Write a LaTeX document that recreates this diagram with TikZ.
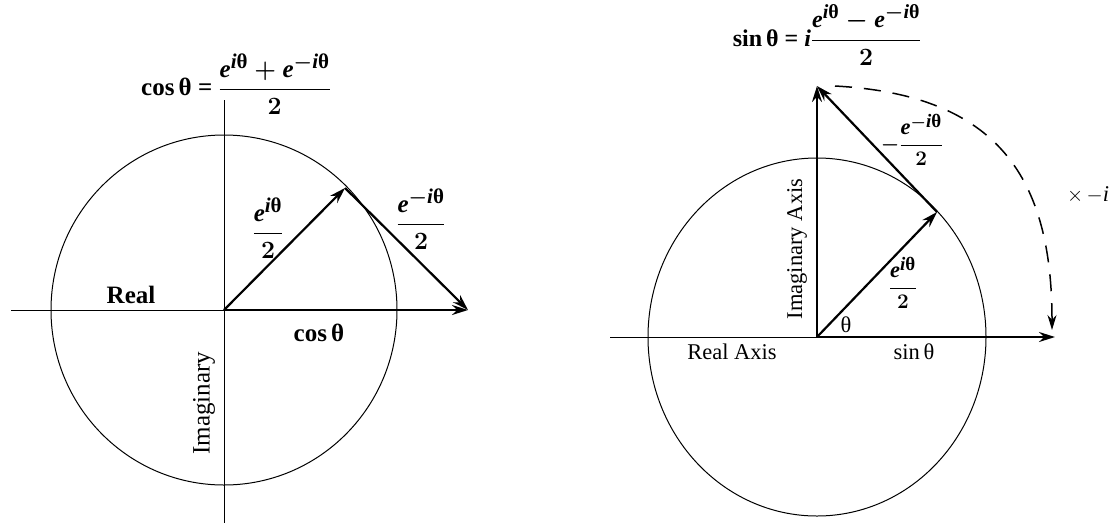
\documentclass[tikz,border=0pt]{standalone}
\usepackage{amsmath}
\usepackage{fontspec}
\setmainfont{Liberation Serif}
\usetikzlibrary{arrows.meta}
\DeclareMathSizes{25}{25}{21}{17}
\DeclareMathSizes{24}{24}{20}{16}
\DeclareMathSizes{22.5}{22.5}{19}{15}
\newcommand{\ee}{\textit{e}}
\newcommand{\ii}{\textit{i}}
\newcommand{\tht}{\text{θ}}
\tikzset{
  thinline/.style={line width=1pt},
  vec/.style={line width=2.2pt,-{Stealth[length=16pt,width=10pt]}},
  llbl/.style={font=\fontsize{25}{30}\selectfont, inner sep=1pt},
  lblb/.style={font=\fontsize{25}{30}\selectfont\bfseries\boldmath, inner sep=1pt},
  rlbl/.style={font=\fontsize{22.5}{27}\selectfont, inner sep=1pt},
  rlblb/.style={font=\fontsize{22.5}{27}\selectfont\bfseries\boldmath, inner sep=1pt},
  eqlbl/.style={font=\fontsize{24}{29}\selectfont\bfseries\boldmath, inner sep=1pt},
  dashedarc/.style={line width=1.5pt, dash pattern=on 17pt off 12pt,-{Stealth[length=15pt,width=9pt]}}
}
\begin{document}
\begin{tikzpicture}[x=1pt,y=-1pt]
\useasboundingbox (0,0) rectangle (1115,523);
% ---------- left diagram ----------
\coordinate (O1) at (224,310);
\coordinate (P1) at (345,188);
\coordinate (Q1) at (468,310);
\coordinate (L1) at (11,310);
\coordinate (T1) at (224,100);
\coordinate (B1) at (224,523);
\draw[thinline] (O1) ellipse [x radius=173, y radius=175];
\draw[thinline] (L1) -- (O1);
\draw[thinline] (T1) -- (B1);
\draw[vec] (O1) -- (Q1);
\draw[vec] (O1) -- (P1);
\draw[vec] (P1) -- (Q1);
\node[lblb] (eqc) at (236,84) {cos\,θ = $\dfrac{\ee^{\ii\tht}+\ee^{-\ii\tht}}{2}$};
\node[lblb] (h1) at (268,228) {$\dfrac{\ee^{\ii\tht}}{2}$};
\node[lblb] (h2) at (421,219) {$\dfrac{\ee^{-\ii\tht}}{2}$};
\node[lblb] (re1) at (131,295) {Real};
\node[lblb] (cs1) at (319,333) {cos\,θ};
\node[llbl, rotate=90] (im1) at (204,403) {Imaginary};
% ---------- right diagram ----------
\coordinate (O2) at (817,337);
\coordinate (P2) at (937,212);
\coordinate (T2) at (817,86);
\coordinate (R2) at (1055,337);
\coordinate (L2) at (610,337);
\coordinate (DS) at (835,86);
\coordinate (DE) at (1052,330);
\draw[thinline] (O2) ellipse [x radius=169, y radius=179];
\draw[thinline] (L2) -- (O2);
\draw[vec] (O2) -- (R2);
\draw[vec] (O2) -- (T2);
\draw[vec] (O2) -- (P2);
\draw[vec] (P2) -- (T2);
\draw[dashedarc] (DS) .. controls (1000,95) and (1052,180) .. (DE);
\node[eqlbl] (eqs) at (827,35) {sin\,θ = \ii$\dfrac{\ee^{\ii\tht}-\ee^{-\ii\tht}}{2}$};
\node[rlblb] (h3) at (912,140) {$-\dfrac{\ee^{-\ii\tht}}{2}$};
\node[rlblb] (h4) at (903,283) {$\dfrac{\ee^{\ii\tht}}{2}$};
\node[rlbl] (mi) at (1088,195) {$\times\,{-}\ii$};
\node[rlbl, rotate=90] (im2) at (797,249) {Imaginary Axis};
\node[rlbl] (th) at (846,325) {θ};
\node[rlbl] (re2) at (732,352) {Real Axis};
\node[rlbl] (sn) at (914,352) {sin\,θ};
\end{tikzpicture}
\end{document}
